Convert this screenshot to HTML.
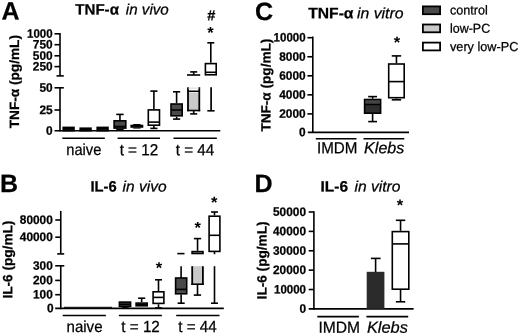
<!DOCTYPE html>
<html><head><meta charset="utf-8"><title>Cytokine figure</title>
<style>
html,body{margin:0;padding:0;background:#fff;}
body{width:520px;height:336px;overflow:hidden;}
svg{display:block;font-family:"Liberation Sans",Arial,sans-serif;fill:#000;}
</style></head><body>
<svg width="520" height="336" viewBox="0 0 520 336">
<rect x="0" y="0" width="520" height="336" fill="#fff"/>
<text x="1.6" y="19.5" font-size="25" font-weight="bold" font-style="normal" text-anchor="start" transform="rotate(0.03 1.6 19.5)" stroke="#000" stroke-width="0.25" >A</text>
<text x="-0.1" y="192.1" font-size="25" font-weight="bold" font-style="normal" text-anchor="start" transform="rotate(0.03 -0.1 192.1)" stroke="#000" stroke-width="0.25" >B</text>
<text x="255" y="20" font-size="25" font-weight="bold" font-style="normal" text-anchor="start" transform="rotate(0.03 255 20)" stroke="#000" stroke-width="0.25" >C</text>
<text x="254.6" y="192.1" font-size="25" font-weight="bold" font-style="normal" text-anchor="start" transform="rotate(0.03 254.6 192.1)" stroke="#000" stroke-width="0.25" >D</text>
<text x="75.3" y="14.5" font-size="15" font-weight="bold" font-style="normal" text-anchor="start" textLength="43.6" lengthAdjust="spacingAndGlyphs" transform="rotate(0.03 75.3 14.5)" stroke="#000" stroke-width="0.25" >TNF-α</text>
<text x="125.8" y="14.5" font-size="15" font-weight="normal" font-style="italic" text-anchor="start" textLength="43" lengthAdjust="spacingAndGlyphs" transform="rotate(0.03 125.8 14.5)" stroke="#000" stroke-width="0.25" >in vivo</text>
<text x="90.5" y="191.5" font-size="15" font-weight="bold" font-style="normal" text-anchor="start" textLength="26.2" lengthAdjust="spacingAndGlyphs" transform="rotate(0.03 90.5 191.5)" stroke="#000" stroke-width="0.25" >IL-6</text>
<text x="122.6" y="191.5" font-size="15" font-weight="normal" font-style="italic" text-anchor="start" textLength="44" lengthAdjust="spacingAndGlyphs" transform="rotate(0.03 122.6 191.5)" stroke="#000" stroke-width="0.25" >in vivo</text>
<text x="308.2" y="18.2" font-size="15" font-weight="bold" font-style="normal" text-anchor="start" textLength="45.3" lengthAdjust="spacingAndGlyphs" transform="rotate(0.03 308.2 18.2)" stroke="#000" stroke-width="0.25" >TNF-α</text>
<text x="357" y="18.2" font-size="15" font-weight="normal" font-style="italic" text-anchor="start" textLength="46.5" lengthAdjust="spacingAndGlyphs" transform="rotate(0.03 357 18.2)" stroke="#000" stroke-width="0.25" >in vitro</text>
<text x="320.5" y="191.5" font-size="15" font-weight="bold" font-style="normal" text-anchor="start" textLength="27.5" lengthAdjust="spacingAndGlyphs" transform="rotate(0.03 320.5 191.5)" stroke="#000" stroke-width="0.25" >IL-6</text>
<text x="354.5" y="191.5" font-size="15" font-weight="normal" font-style="italic" text-anchor="start" textLength="46" lengthAdjust="spacingAndGlyphs" transform="rotate(0.03 354.5 191.5)" stroke="#000" stroke-width="0.25" >in vitro</text>
<text x="18.9" y="128.3" font-size="13.4" font-weight="bold" font-style="normal" text-anchor="start" textLength="93.3" lengthAdjust="spacingAndGlyphs" transform="rotate(-89.97 18.9 128.3)" stroke="#000" stroke-width="0.25" >TNF-α (pg/mL)</text>
<text x="12.2" y="298.6" font-size="13.4" font-weight="bold" font-style="normal" text-anchor="start" textLength="78" lengthAdjust="spacingAndGlyphs" transform="rotate(-89.97 12.2 298.6)" stroke="#000" stroke-width="0.25" >IL-6 (pg/mL)</text>
<text x="270.4" y="131.6" font-size="13.4" font-weight="bold" font-style="normal" text-anchor="start" textLength="93" lengthAdjust="spacingAndGlyphs" transform="rotate(-89.97 270.4 131.6)" stroke="#000" stroke-width="0.25" >TNF-α (pg/mL)</text>
<text x="266.4" y="299.4" font-size="13.4" font-weight="bold" font-style="normal" text-anchor="start" textLength="78" lengthAdjust="spacingAndGlyphs" transform="rotate(-89.97 266.4 299.4)" stroke="#000" stroke-width="0.25" >IL-6 (pg/mL)</text>
<line x1="60.0" y1="33" x2="60.0" y2="75.9" stroke="#000" stroke-width="1.6"/>
<line x1="54.5" y1="33.8" x2="60.0" y2="33.8" stroke="#000" stroke-width="1.6"/>
<text x="52.6" y="37.699999999999996" font-size="12.2" font-weight="bold" font-style="normal" text-anchor="end" textLength="25.6" lengthAdjust="spacingAndGlyphs" transform="rotate(0.03 52.6 37.699999999999996)" stroke="#000" stroke-width="0.25" >1000</text>
<line x1="54.5" y1="44.7" x2="60.0" y2="44.7" stroke="#000" stroke-width="1.6"/>
<text x="52.6" y="48.6" font-size="12.2" font-weight="bold" font-style="normal" text-anchor="end" textLength="19.8" lengthAdjust="spacingAndGlyphs" transform="rotate(0.03 52.6 48.6)" stroke="#000" stroke-width="0.25" >750</text>
<line x1="54.5" y1="55.8" x2="60.0" y2="55.8" stroke="#000" stroke-width="1.6"/>
<text x="52.6" y="59.699999999999996" font-size="12.2" font-weight="bold" font-style="normal" text-anchor="end" textLength="19.8" lengthAdjust="spacingAndGlyphs" transform="rotate(0.03 52.6 59.699999999999996)" stroke="#000" stroke-width="0.25" >500</text>
<line x1="54.5" y1="66.6" x2="60.0" y2="66.6" stroke="#000" stroke-width="1.6"/>
<text x="52.6" y="70.5" font-size="12.2" font-weight="bold" font-style="normal" text-anchor="end" textLength="19.8" lengthAdjust="spacingAndGlyphs" transform="rotate(0.03 52.6 70.5)" stroke="#000" stroke-width="0.25" >250</text>
<line x1="56.5" y1="75.9" x2="63.8" y2="75.9" stroke="#000" stroke-width="1.6"/>
<line x1="60.0" y1="87.8" x2="60.0" y2="131.6" stroke="#000" stroke-width="1.6"/>
<line x1="54.5" y1="87.8" x2="63.8" y2="87.8" stroke="#000" stroke-width="1.6"/>
<text x="52.6" y="91.7" font-size="12.2" font-weight="bold" font-style="normal" text-anchor="end" textLength="13.2" lengthAdjust="spacingAndGlyphs" transform="rotate(0.03 52.6 91.7)" stroke="#000" stroke-width="0.25" >50</text>
<line x1="54.5" y1="110" x2="60.0" y2="110" stroke="#000" stroke-width="1.6"/>
<text x="52.6" y="113.9" font-size="12.2" font-weight="bold" font-style="normal" text-anchor="end" textLength="13.2" lengthAdjust="spacingAndGlyphs" transform="rotate(0.03 52.6 113.9)" stroke="#000" stroke-width="0.25" >25</text>
<line x1="54.5" y1="130.8" x2="220.3" y2="130.8" stroke="#000" stroke-width="1.6"/>
<text x="52.6" y="134.70000000000002" font-size="12.2" font-weight="bold" font-style="normal" text-anchor="end" textLength="6.6" lengthAdjust="spacingAndGlyphs" transform="rotate(0.03 52.6 134.70000000000002)" stroke="#000" stroke-width="0.25" >0</text>
<line x1="62.3" y1="138.2" x2="104.8" y2="138.2" stroke="#000" stroke-width="1.6"/>
<line x1="117.6" y1="138.2" x2="160" y2="138.2" stroke="#000" stroke-width="1.6"/>
<line x1="173.5" y1="138.2" x2="216.8" y2="138.2" stroke="#000" stroke-width="1.6"/>
<text x="83.8" y="155.2" font-size="16" font-weight="normal" font-style="normal" text-anchor="middle" textLength="35" lengthAdjust="spacingAndGlyphs" transform="rotate(0.03 83.8 155.2)" stroke="#000" stroke-width="0.25" >naive</text>
<text x="138.9" y="155.2" font-size="16" font-weight="normal" font-style="normal" text-anchor="middle" textLength="38.5" lengthAdjust="spacingAndGlyphs" transform="rotate(0.03 138.9 155.2)" stroke="#000" stroke-width="0.25" >t = 12</text>
<text x="195.0" y="155.2" font-size="16" font-weight="normal" font-style="normal" text-anchor="middle" textLength="38.5" lengthAdjust="spacingAndGlyphs" transform="rotate(0.03 195.0 155.2)" stroke="#000" stroke-width="0.25" >t = 44</text>
<rect x="63.199999999999996" y="127.39999999999999" width="10.8" height="3.3" fill="#1c1c1c" stroke="#000" stroke-width="1.6"/>
<line x1="63.199999999999996" y1="128.8" x2="74.0" y2="128.8" stroke="#000" stroke-width="1.6"/>
<rect x="80.2" y="128.20000000000002" width="10.8" height="2.5" fill="#1c1c1c" stroke="#000" stroke-width="1.6"/>
<line x1="80.2" y1="129.2" x2="91.0" y2="129.2" stroke="#000" stroke-width="1.6"/>
<rect x="97.2" y="127.39999999999999" width="10.8" height="3.3" fill="#2a2a2a" stroke="#000" stroke-width="1.6"/>
<line x1="97.2" y1="128.8" x2="108.0" y2="128.8" stroke="#000" stroke-width="1.6"/>
<line x1="119.94999999999999" y1="114.4" x2="119.94999999999999" y2="120" stroke="#000" stroke-width="1.6"/>
<line x1="116.22599999999998" y1="114.4" x2="123.67399999999999" y2="114.4" stroke="#000" stroke-width="1.6"/>
<line x1="119.94999999999999" y1="128.9" x2="119.94999999999999" y2="129.6" stroke="#000" stroke-width="1.6"/>
<line x1="116.22599999999998" y1="129.6" x2="123.67399999999999" y2="129.6" stroke="#000" stroke-width="1.6"/>
<rect x="114.1" y="120.8" width="11.7" height="7.3" fill="#4a4a4a" stroke="#000" stroke-width="1.6"/>
<line x1="114.1" y1="126.5" x2="125.8" y2="126.5" stroke="#000" stroke-width="1.6"/>
<rect x="131.20000000000002" y="125.5" width="11.3" height="1.5" fill="#c9c9c9" stroke="#000" stroke-width="1.6"/>
<line x1="131.20000000000002" y1="126.2" x2="142.5" y2="126.2" stroke="#000" stroke-width="1.6"/>
<line x1="133.2" y1="124.5" x2="140.6" y2="124.5" stroke="#000" stroke-width="1.0"/>
<line x1="133.2" y1="128.1" x2="140.6" y2="128.1" stroke="#000" stroke-width="1.0"/>
<line x1="153.9" y1="91.1" x2="153.9" y2="109.1" stroke="#000" stroke-width="1.6"/>
<line x1="150.316" y1="91.1" x2="157.484" y2="91.1" stroke="#000" stroke-width="1.6"/>
<line x1="153.9" y1="126.0" x2="153.9" y2="128.4" stroke="#000" stroke-width="1.6"/>
<line x1="150.316" y1="128.4" x2="157.484" y2="128.4" stroke="#000" stroke-width="1.6"/>
<rect x="148.3" y="109.89999999999999" width="11.2" height="15.3" fill="#fff" stroke="#000" stroke-width="1.6"/>
<line x1="148.3" y1="122.1" x2="159.5" y2="122.1" stroke="#000" stroke-width="1.6"/>
<line x1="176.6" y1="91.8" x2="176.6" y2="103.2" stroke="#000" stroke-width="1.6"/>
<line x1="173.016" y1="91.8" x2="180.184" y2="91.8" stroke="#000" stroke-width="1.6"/>
<line x1="176.6" y1="116.6" x2="176.6" y2="119.1" stroke="#000" stroke-width="1.6"/>
<line x1="173.016" y1="119.1" x2="180.184" y2="119.1" stroke="#000" stroke-width="1.6"/>
<rect x="171.0" y="104.0" width="11.2" height="11.8" fill="#4a4a4a" stroke="#000" stroke-width="1.6"/>
<line x1="171.0" y1="110" x2="182.2" y2="110" stroke="#000" stroke-width="1.6"/>
<rect x="188" y="93" width="11.3" height="17" fill="#c9c9c9"/>
<line x1="188" y1="87.2" x2="188" y2="111.3" stroke="#000" stroke-width="1.8"/>
<line x1="199.3" y1="87.2" x2="199.3" y2="111.3" stroke="#000" stroke-width="1.8"/>
<line x1="187.1" y1="110.5" x2="200.2" y2="110.5" stroke="#000" stroke-width="1.6"/>
<line x1="188" y1="91.3" x2="199.3" y2="91.3" stroke="#000" stroke-width="1.6"/>
<line x1="188" y1="88.1" x2="199.3" y2="88.1" stroke="#ccc" stroke-width="0.8"/>
<line x1="193.7" y1="111" x2="193.7" y2="113.9" stroke="#000" stroke-width="1.6"/>
<line x1="190.2" y1="113.9" x2="197.2" y2="113.9" stroke="#000" stroke-width="1.6"/>
<line x1="187" y1="75" x2="200.2" y2="75" stroke="#000" stroke-width="1.6"/>
<line x1="193.7" y1="75" x2="193.7" y2="71.9" stroke="#000" stroke-width="1.6"/>
<line x1="190.2" y1="71.9" x2="197.2" y2="71.9" stroke="#000" stroke-width="1.6"/>
<line x1="211.1" y1="87.2" x2="211.1" y2="110.8" stroke="#000" stroke-width="1.7"/>
<line x1="207.3" y1="110.8" x2="214.6" y2="110.8" stroke="#000" stroke-width="1.6"/>
<line x1="210.8" y1="42.8" x2="210.8" y2="62.8" stroke="#000" stroke-width="1.6"/>
<line x1="207.328" y1="42.8" x2="214.27200000000002" y2="42.8" stroke="#000" stroke-width="1.6"/>
<rect x="205.4" y="63.599999999999994" width="10.8" height="11.2" fill="#fff" stroke="#000" stroke-width="1.6"/>
<line x1="205.4" y1="72.3" x2="216.2" y2="72.3" stroke="#000" stroke-width="1.6"/>
<text x="211.2" y="20.3" font-size="14.5" font-weight="bold" font-style="normal" text-anchor="middle" transform="rotate(0.03 211.2 20.3)" stroke="#000" stroke-width="0.25" >#</text>
<text x="210.4" y="38.3" font-size="16.5" font-weight="bold" text-anchor="middle" transform="rotate(0.03 210.4 38.3)">*</text>
<line x1="60.75" y1="210.9" x2="60.75" y2="253.8" stroke="#000" stroke-width="1.6"/>
<line x1="55.3" y1="220" x2="60.75" y2="220" stroke="#000" stroke-width="1.6"/>
<text x="52.8" y="223.9" font-size="12.2" font-weight="bold" font-style="normal" text-anchor="end" textLength="33.0" lengthAdjust="spacingAndGlyphs" transform="rotate(0.03 52.8 223.9)" stroke="#000" stroke-width="0.25" >80000</text>
<line x1="55.3" y1="237.2" x2="60.75" y2="237.2" stroke="#000" stroke-width="1.6"/>
<text x="52.8" y="241.1" font-size="12.2" font-weight="bold" font-style="normal" text-anchor="end" textLength="33.0" lengthAdjust="spacingAndGlyphs" transform="rotate(0.03 52.8 241.1)" stroke="#000" stroke-width="0.25" >40000</text>
<line x1="57.2" y1="253.9" x2="64.2" y2="253.9" stroke="#000" stroke-width="1.6"/>
<line x1="60.75" y1="265.8" x2="60.75" y2="309.2" stroke="#000" stroke-width="1.6"/>
<line x1="55.2" y1="265.8" x2="64.3" y2="265.8" stroke="#000" stroke-width="1.6"/>
<text x="52.8" y="269.7" font-size="12.2" font-weight="bold" font-style="normal" text-anchor="end" textLength="19.8" lengthAdjust="spacingAndGlyphs" transform="rotate(0.03 52.8 269.7)" stroke="#000" stroke-width="0.25" >300</text>
<line x1="55.2" y1="280.4" x2="60.75" y2="280.4" stroke="#000" stroke-width="1.6"/>
<text x="52.8" y="284.29999999999995" font-size="12.2" font-weight="bold" font-style="normal" text-anchor="end" textLength="19.8" lengthAdjust="spacingAndGlyphs" transform="rotate(0.03 52.8 284.29999999999995)" stroke="#000" stroke-width="0.25" >200</text>
<line x1="55.2" y1="294.7" x2="60.75" y2="294.7" stroke="#000" stroke-width="1.6"/>
<text x="52.8" y="298.59999999999997" font-size="12.2" font-weight="bold" font-style="normal" text-anchor="end" textLength="19.8" lengthAdjust="spacingAndGlyphs" transform="rotate(0.03 52.8 298.59999999999997)" stroke="#000" stroke-width="0.25" >100</text>
<line x1="55.2" y1="308.4" x2="223.8" y2="308.4" stroke="#000" stroke-width="1.6"/>
<text x="53.6" y="312.29999999999995" font-size="12.2" font-weight="bold" font-style="normal" text-anchor="end" textLength="6.6" lengthAdjust="spacingAndGlyphs" transform="rotate(0.03 53.6 312.29999999999995)" stroke="#000" stroke-width="0.25" >0</text>
<line x1="62.7" y1="315.5" x2="105.9" y2="315.5" stroke="#000" stroke-width="1.6"/>
<line x1="118.9" y1="315.5" x2="161.9" y2="315.5" stroke="#000" stroke-width="1.6"/>
<line x1="176.2" y1="315.5" x2="219.5" y2="315.5" stroke="#000" stroke-width="1.6"/>
<text x="84.5" y="332.0" font-size="16" font-weight="normal" font-style="normal" text-anchor="middle" textLength="36" lengthAdjust="spacingAndGlyphs" transform="rotate(0.03 84.5 332.0)" stroke="#000" stroke-width="0.25" >naive</text>
<text x="140.6" y="332.0" font-size="16" font-weight="normal" font-style="normal" text-anchor="middle" textLength="38.5" lengthAdjust="spacingAndGlyphs" transform="rotate(0.03 140.6 332.0)" stroke="#000" stroke-width="0.25" >t = 12</text>
<text x="197.5" y="332.0" font-size="16" font-weight="normal" font-style="normal" text-anchor="middle" textLength="38.5" lengthAdjust="spacingAndGlyphs" transform="rotate(0.03 197.5 332.0)" stroke="#000" stroke-width="0.25" >t = 44</text>
<line x1="64" y1="307.3" x2="112" y2="307.3" stroke="#000" stroke-width="1.0"/>
<line x1="125.0" y1="307.2" x2="125.0" y2="308" stroke="#000" stroke-width="1.6"/>
<line x1="121.416" y1="308" x2="128.584" y2="308" stroke="#000" stroke-width="1.6"/>
<rect x="119.39999999999999" y="302.1" width="11.2" height="4.3" fill="#4a4a4a" stroke="#000" stroke-width="1.6"/>
<line x1="119.39999999999999" y1="304.3" x2="130.6" y2="304.3" stroke="#000" stroke-width="1.6"/>
<line x1="141.65" y1="298.2" x2="141.65" y2="302.3" stroke="#000" stroke-width="1.6"/>
<line x1="138.09400000000002" y1="298.2" x2="145.206" y2="298.2" stroke="#000" stroke-width="1.6"/>
<rect x="136.10000000000002" y="303.1" width="11.1" height="2.7" fill="#c9c9c9" stroke="#000" stroke-width="1.6"/>
<line x1="136.10000000000002" y1="304.4" x2="147.2" y2="304.4" stroke="#000" stroke-width="1.6"/>
<line x1="158.5" y1="279.8" x2="158.5" y2="291" stroke="#000" stroke-width="1.6"/>
<line x1="155.02800000000002" y1="279.8" x2="161.97199999999998" y2="279.8" stroke="#000" stroke-width="1.6"/>
<line x1="158.5" y1="304.2" x2="158.5" y2="308" stroke="#000" stroke-width="1.6"/>
<line x1="155.02800000000002" y1="308" x2="161.97199999999998" y2="308" stroke="#000" stroke-width="1.6"/>
<rect x="153.10000000000002" y="291.8" width="10.8" height="11.6" fill="#fff" stroke="#000" stroke-width="1.6"/>
<line x1="153.10000000000002" y1="297.4" x2="163.89999999999998" y2="297.4" stroke="#000" stroke-width="1.6"/>
<text x="158.9" y="273.55" font-size="16.5" font-weight="bold" text-anchor="middle" transform="rotate(0.03 158.9 273.55)">*</text>
<line x1="177.3" y1="253.6" x2="184.5" y2="253.6" stroke="#000" stroke-width="1.6"/>
<line x1="181.15" y1="294.6" x2="181.15" y2="303.2" stroke="#000" stroke-width="1.6"/>
<line x1="177.59400000000002" y1="303.2" x2="184.706" y2="303.2" stroke="#000" stroke-width="1.6"/>
<rect x="175.60000000000002" y="278.0" width="11.1" height="15.8" fill="#4a4a4a" stroke="#000" stroke-width="1.6"/>
<line x1="175.60000000000002" y1="289.4" x2="186.7" y2="289.4" stroke="#000" stroke-width="1.6"/>
<line x1="181.1" y1="266.2" x2="181.1" y2="278" stroke="#000" stroke-width="1.6"/>
<rect x="192" y="266.2" width="11" height="18" fill="#c9c9c9"/>
<line x1="192.2" y1="266.2" x2="192.2" y2="285" stroke="#000" stroke-width="1.8"/>
<line x1="202.9" y1="266.2" x2="202.9" y2="285" stroke="#000" stroke-width="1.8"/>
<line x1="191.3" y1="284.2" x2="203.8" y2="284.2" stroke="#000" stroke-width="1.6"/>
<line x1="197.5" y1="284.5" x2="197.5" y2="295.1" stroke="#000" stroke-width="1.6"/>
<line x1="193.8" y1="295.1" x2="201.1" y2="295.1" stroke="#000" stroke-width="1.6"/>
<line x1="197.55" y1="238.6" x2="197.55" y2="250.8" stroke="#000" stroke-width="1.6"/>
<line x1="193.9" y1="238.6" x2="201.20000000000002" y2="238.6" stroke="#000" stroke-width="1.6"/>
<rect x="192.10000000000002" y="251.60000000000002" width="10.9" height="1.9" fill="#fff" stroke="#000" stroke-width="1.6"/>
<text x="197.7" y="233.35" font-size="16.5" font-weight="bold" text-anchor="middle" transform="rotate(0.03 197.7 233.35)">*</text>
<line x1="214.5" y1="266.2" x2="214.5" y2="303.2" stroke="#000" stroke-width="1.6"/>
<line x1="211" y1="303.2" x2="218" y2="303.2" stroke="#000" stroke-width="1.6"/>
<line x1="214.5" y1="251" x2="214.5" y2="254.2" stroke="#000" stroke-width="1.6"/>
<line x1="214.5" y1="212" x2="214.5" y2="215.4" stroke="#000" stroke-width="1.6"/>
<line x1="211.02800000000002" y1="212" x2="217.97199999999998" y2="212" stroke="#000" stroke-width="1.6"/>
<rect x="209.10000000000002" y="216.20000000000002" width="10.8" height="35.2" fill="#fff" stroke="#000" stroke-width="1.6"/>
<line x1="209.10000000000002" y1="235.3" x2="219.89999999999998" y2="235.3" stroke="#000" stroke-width="1.6"/>
<text x="214.3" y="208.1" font-size="16.5" font-weight="bold" text-anchor="middle" transform="rotate(0.03 214.3 208.1)">*</text>
<line x1="312.8" y1="36.6" x2="312.8" y2="133.1" stroke="#000" stroke-width="1.6"/>
<line x1="307.4" y1="37.7" x2="312.8" y2="37.7" stroke="#000" stroke-width="1.6"/>
<text x="305.6" y="41.6" font-size="12.2" font-weight="bold" font-style="normal" text-anchor="end" textLength="32.0" lengthAdjust="spacingAndGlyphs" transform="rotate(0.03 305.6 41.6)" stroke="#000" stroke-width="0.25" >10000</text>
<line x1="307.4" y1="56.75" x2="312.8" y2="56.75" stroke="#000" stroke-width="1.6"/>
<text x="305.6" y="60.65" font-size="12.2" font-weight="bold" font-style="normal" text-anchor="end" textLength="26.4" lengthAdjust="spacingAndGlyphs" transform="rotate(0.03 305.6 60.65)" stroke="#000" stroke-width="0.25" >8000</text>
<line x1="307.4" y1="75.80000000000001" x2="312.8" y2="75.80000000000001" stroke="#000" stroke-width="1.6"/>
<text x="305.6" y="79.70000000000002" font-size="12.2" font-weight="bold" font-style="normal" text-anchor="end" textLength="26.4" lengthAdjust="spacingAndGlyphs" transform="rotate(0.03 305.6 79.70000000000002)" stroke="#000" stroke-width="0.25" >6000</text>
<line x1="307.4" y1="94.85000000000001" x2="312.8" y2="94.85000000000001" stroke="#000" stroke-width="1.6"/>
<text x="305.6" y="98.75000000000001" font-size="12.2" font-weight="bold" font-style="normal" text-anchor="end" textLength="26.4" lengthAdjust="spacingAndGlyphs" transform="rotate(0.03 305.6 98.75000000000001)" stroke="#000" stroke-width="0.25" >4000</text>
<line x1="307.4" y1="113.9" x2="312.8" y2="113.9" stroke="#000" stroke-width="1.6"/>
<text x="305.6" y="117.80000000000001" font-size="12.2" font-weight="bold" font-style="normal" text-anchor="end" textLength="26.4" lengthAdjust="spacingAndGlyphs" transform="rotate(0.03 305.6 117.80000000000001)" stroke="#000" stroke-width="0.25" >2000</text>
<line x1="307.8" y1="132.4" x2="409" y2="132.4" stroke="#000" stroke-width="1.6"/>
<text x="305.6" y="136.3" font-size="12.2" font-weight="bold" font-style="normal" text-anchor="end" textLength="6.6" lengthAdjust="spacingAndGlyphs" transform="rotate(0.03 305.6 136.3)" stroke="#000" stroke-width="0.25" >0</text>
<line x1="315.8" y1="138.8" x2="356.5" y2="138.8" stroke="#000" stroke-width="1.6"/>
<line x1="363.5" y1="138.8" x2="404.3" y2="138.8" stroke="#000" stroke-width="1.6"/>
<text x="337.2" y="153.3" font-size="16" font-weight="normal" font-style="normal" text-anchor="middle" textLength="40.4" lengthAdjust="spacingAndGlyphs" transform="rotate(0.03 337.2 153.3)" stroke="#000" stroke-width="0.25" >IMDM</text>
<text x="384.2" y="153.3" font-size="16" font-weight="normal" font-style="italic" text-anchor="middle" textLength="40.2" lengthAdjust="spacingAndGlyphs" transform="rotate(0.03 384.2 153.3)" stroke="#000" stroke-width="0.25" >Klebs</text>
<line x1="372.6" y1="96.6" x2="372.6" y2="98.7" stroke="#000" stroke-width="1.6"/>
<line x1="368.20000000000005" y1="96.6" x2="377.0" y2="96.6" stroke="#000" stroke-width="1.6"/>
<line x1="372.6" y1="114.0" x2="372.6" y2="121.6" stroke="#000" stroke-width="1.6"/>
<line x1="368.20000000000005" y1="121.6" x2="377.0" y2="121.6" stroke="#000" stroke-width="1.6"/>
<rect x="364.6" y="99.5" width="16.0" height="13.7" fill="#2e2e2e" stroke="#000" stroke-width="1.6"/>
<line x1="364.6" y1="104.4" x2="380.59999999999997" y2="104.4" stroke="#000" stroke-width="1.6"/>
<rect x="365.4" y="100.3" width="14.4" height="3.3" fill="#454545"/>
<line x1="396.45" y1="55.9" x2="396.45" y2="63.2" stroke="#000" stroke-width="1.6"/>
<line x1="391.75" y1="55.9" x2="401.15" y2="55.9" stroke="#000" stroke-width="1.6"/>
<line x1="396.45" y1="98.5" x2="396.45" y2="99.8" stroke="#000" stroke-width="1.6"/>
<line x1="391.75" y1="99.8" x2="401.15" y2="99.8" stroke="#000" stroke-width="1.6"/>
<rect x="388.7" y="64.0" width="15.5" height="33.7" fill="#fff" stroke="#000" stroke-width="1.6"/>
<line x1="388.7" y1="81.6" x2="404.2" y2="81.6" stroke="#000" stroke-width="1.6"/>
<text x="396.9" y="48.05" font-size="16.5" font-weight="bold" text-anchor="middle" transform="rotate(0.03 396.9 48.05)">*</text>
<rect x="422.9" y="6.4" width="17.2" height="7.8" fill="#4a4a4a" stroke="#000" stroke-width="1.8"/>
<rect x="422.9" y="24.5" width="17.2" height="7.8" fill="#c9c9c9" stroke="#000" stroke-width="1.8"/>
<rect x="422.9" y="42.6" width="17.2" height="7.8" fill="#fff" stroke="#000" stroke-width="1.8"/>
<text x="450.0" y="14.5" font-size="13" font-weight="normal" font-style="normal" text-anchor="start" textLength="37.8" lengthAdjust="spacingAndGlyphs" transform="rotate(0.03 450.0 14.5)" stroke="#000" stroke-width="0.25" >control</text>
<text x="450.0" y="32.7" font-size="13" font-weight="normal" font-style="normal" text-anchor="start" textLength="40.2" lengthAdjust="spacingAndGlyphs" transform="rotate(0.03 450.0 32.7)" stroke="#000" stroke-width="0.25" >low-PC</text>
<text x="450.0" y="50.9" font-size="13" font-weight="normal" font-style="normal" text-anchor="start" textLength="68.3" lengthAdjust="spacingAndGlyphs" transform="rotate(0.03 450.0 50.9)" stroke="#000" stroke-width="0.25" >very low-PC</text>
<line x1="313.9" y1="211.2" x2="313.9" y2="309.7" stroke="#000" stroke-width="1.6"/>
<line x1="308.7" y1="212.0" x2="313.9" y2="212.0" stroke="#000" stroke-width="1.6"/>
<text x="306" y="215.9" font-size="12.2" font-weight="bold" font-style="normal" text-anchor="end" textLength="33.0" lengthAdjust="spacingAndGlyphs" transform="rotate(0.03 306 215.9)" stroke="#000" stroke-width="0.25" >50000</text>
<line x1="308.7" y1="231.38" x2="313.9" y2="231.38" stroke="#000" stroke-width="1.6"/>
<text x="306" y="235.28" font-size="12.2" font-weight="bold" font-style="normal" text-anchor="end" textLength="33.0" lengthAdjust="spacingAndGlyphs" transform="rotate(0.03 306 235.28)" stroke="#000" stroke-width="0.25" >40000</text>
<line x1="308.7" y1="250.76" x2="313.9" y2="250.76" stroke="#000" stroke-width="1.6"/>
<text x="306" y="254.66" font-size="12.2" font-weight="bold" font-style="normal" text-anchor="end" textLength="33.0" lengthAdjust="spacingAndGlyphs" transform="rotate(0.03 306 254.66)" stroke="#000" stroke-width="0.25" >30000</text>
<line x1="308.7" y1="270.14" x2="313.9" y2="270.14" stroke="#000" stroke-width="1.6"/>
<text x="306" y="274.03999999999996" font-size="12.2" font-weight="bold" font-style="normal" text-anchor="end" textLength="33.0" lengthAdjust="spacingAndGlyphs" transform="rotate(0.03 306 274.03999999999996)" stroke="#000" stroke-width="0.25" >20000</text>
<line x1="308.7" y1="289.52" x2="313.9" y2="289.52" stroke="#000" stroke-width="1.6"/>
<text x="306" y="293.41999999999996" font-size="12.2" font-weight="bold" font-style="normal" text-anchor="end" textLength="32.0" lengthAdjust="spacingAndGlyphs" transform="rotate(0.03 306 293.41999999999996)" stroke="#000" stroke-width="0.25" >10000</text>
<line x1="308.7" y1="308.9" x2="413.6" y2="308.9" stroke="#000" stroke-width="1.6"/>
<text x="306" y="312.79999999999995" font-size="12.2" font-weight="bold" font-style="normal" text-anchor="end" textLength="6.6" lengthAdjust="spacingAndGlyphs" transform="rotate(0.03 306 312.79999999999995)" stroke="#000" stroke-width="0.25" >0</text>
<line x1="317.3" y1="316.6" x2="358.9" y2="316.6" stroke="#000" stroke-width="1.6"/>
<line x1="366.4" y1="316.6" x2="408.2" y2="316.6" stroke="#000" stroke-width="1.6"/>
<text x="339.2" y="332.8" font-size="16" font-weight="normal" font-style="normal" text-anchor="middle" textLength="41.6" lengthAdjust="spacingAndGlyphs" transform="rotate(0.03 339.2 332.8)" stroke="#000" stroke-width="0.25" >IMDM</text>
<text x="387.4" y="332.8" font-size="16" font-weight="normal" font-style="italic" text-anchor="middle" textLength="41" lengthAdjust="spacingAndGlyphs" transform="rotate(0.03 387.4 332.8)" stroke="#000" stroke-width="0.25" >Klebs</text>
<line x1="375.6" y1="258.4" x2="375.6" y2="272" stroke="#000" stroke-width="1.6"/>
<line x1="370.9" y1="258.4" x2="380.6" y2="258.4" stroke="#000" stroke-width="1.6"/>
<rect x="366.7" y="271.8" width="17.7" height="37" fill="#2b2b2b"/>
<line x1="400.55" y1="220.3" x2="400.55" y2="230.8" stroke="#000" stroke-width="1.6"/>
<line x1="395.85" y1="220.3" x2="405.25" y2="220.3" stroke="#000" stroke-width="1.6"/>
<line x1="400.55" y1="290" x2="400.55" y2="301.8" stroke="#000" stroke-width="1.6"/>
<line x1="395.85" y1="301.8" x2="405.25" y2="301.8" stroke="#000" stroke-width="1.6"/>
<rect x="392.3" y="231.60000000000002" width="16.5" height="57.6" fill="#fff" stroke="#000" stroke-width="1.6"/>
<line x1="392.3" y1="243.9" x2="408.8" y2="243.9" stroke="#000" stroke-width="1.6"/>
<text x="399.9" y="210.65" font-size="16.5" font-weight="bold" text-anchor="middle" transform="rotate(0.03 399.9 210.65)">*</text>
</svg></body></html>
